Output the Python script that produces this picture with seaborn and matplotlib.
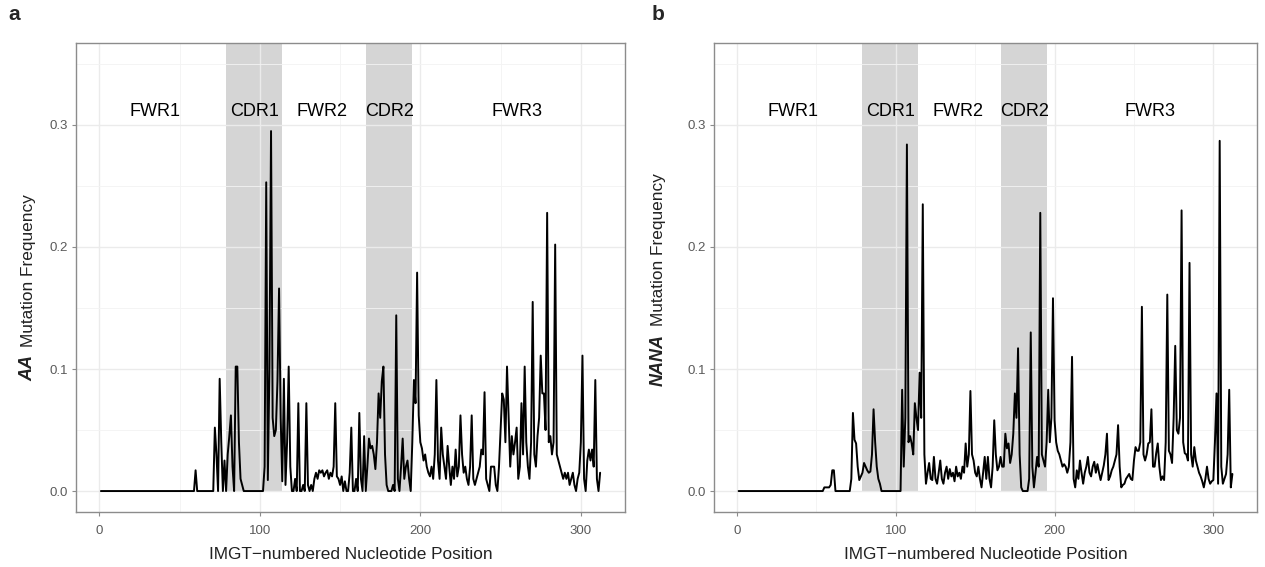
import numpy as np
import pandas as pd
import seaborn as sns
import matplotlib.pyplot as plt

positions = list(range(1, 313))

aa_freq = ([0.0] * 59 + [
    0.017, 0, 0, 0, 0, 0, 0, 0, 0, 0,
    0, 0, 0.052, 0.03, 0.0, 0.092, 0.04, 0.0, 0.025, 0.0,
    0.03, 0.045, 0.062, 0.02, 0.0, 0.102, 0.102, 0.04, 0.01, 0.005,
    0, 0, 0, 0, 0, 0, 0, 0, 0, 0,
    0, 0, 0, 0.02, 0.253, 0.009, 0.1, 0.295, 0.06, 0.045,
    0.05, 0.09, 0.166, 0.06, 0.008, 0.092, 0.005, 0.04, 0.102, 0.02,
    0.0, 0.0, 0.01, 0.0, 0.072, 0.0, 0.0, 0.005, 0.0, 0.072,
    0.005, 0.0, 0.005, 0.0, 0.01, 0.015, 0.01, 0.017, 0.015, 0.017,
    0.012, 0.015, 0.017, 0.01, 0.015, 0.012, 0.02, 0.072, 0.012, 0.01,
    0.005, 0.012, 0.0, 0.008, 0.0, 0.0, 0.015, 0.052, 0.0, 0.0,
    0.01, 0.0, 0.064, 0.01, 0.0, 0.045, 0.0, 0.02, 0.043, 0.035,
    0.037, 0.03, 0.018, 0.04, 0.08, 0.06, 0.09, 0.102, 0.03, 0.005,
    0, 0, 0, 0.005, 0, 0.144, 0.01, 0, 0.02, 0.043,
    0.01, 0.02, 0.025, 0.01, 0.0, 0.04, 0.091, 0.072, 0.179, 0.062,
    0.04, 0.035, 0.025, 0.03, 0.02, 0.015, 0.012, 0.02, 0.01, 0.03,
    0.091, 0.025, 0.01, 0.052, 0.03, 0.02, 0.01, 0.037, 0.02, 0.005,
    0.02, 0.01, 0.034, 0.012, 0.02, 0.062, 0.03, 0.015, 0.02, 0.01,
    0.005, 0.02, 0.062, 0.01, 0.005, 0.01, 0.015, 0.02, 0.034, 0.03,
    0.081, 0.01, 0.005, 0.0, 0.02, 0.02, 0.02, 0.005, 0.0, 0.02,
    0.05, 0.08, 0.075, 0.04, 0.102, 0.06, 0.02, 0.045, 0.03, 0.04,
    0.052, 0.01, 0.02, 0.072, 0.03, 0.102, 0.04, 0.02, 0.01, 0.04,
    0.155, 0.03, 0.02, 0.045, 0.06, 0.111, 0.08, 0.08, 0.05, 0.228,
    0.04, 0.045, 0.03, 0.04, 0.202, 0.03, 0.025, 0.02, 0.015, 0.01,
    0.015, 0.01, 0.015, 0.005, 0.01, 0.015, 0.005, 0.0, 0.01, 0.015,
    0.04, 0.111, 0.01, 0.0, 0.025, 0.034, 0.025, 0.034, 0.02, 0.091,
    0.01, 0.0, 0.015])

nana_freq = ([0.0] * 54 + [
    0.003, 0.003, 0.003, 0.003, 0.005,
    0.017, 0.017, 0, 0, 0, 0, 0, 0, 0, 0,
    0, 0, 0.01, 0.064, 0.042, 0.039, 0.02, 0.009, 0.012, 0.015,
    0.023, 0.02, 0.017, 0.015, 0.016, 0.03, 0.067, 0.04, 0.02, 0.01,
    0.006, 0, 0, 0, 0, 0, 0, 0, 0, 0,
    0, 0, 0, 0, 0.083, 0.02, 0.06, 0.284, 0.04, 0.045,
    0.039, 0.03, 0.072, 0.06, 0.05, 0.097, 0.06, 0.235, 0.03, 0.006,
    0.015, 0.023, 0.01, 0.009, 0.028, 0.01, 0.006, 0.015, 0.025, 0.01,
    0.006, 0.015, 0.02, 0.01, 0.018, 0.012, 0.015, 0.008, 0.02, 0.012,
    0.015, 0.01, 0.02, 0.015, 0.039, 0.02, 0.03, 0.082, 0.03, 0.025,
    0.015, 0.012, 0.02, 0.01, 0.003, 0.015, 0.028, 0.01, 0.028, 0.01,
    0.003, 0.02, 0.058, 0.03, 0.017, 0.02, 0.028, 0.02, 0.02, 0.047,
    0.035, 0.039, 0.023, 0.03, 0.047, 0.08, 0.06, 0.117, 0.03, 0.003,
    0, 0, 0, 0, 0.01, 0.13, 0.02, 0.003, 0.015, 0.028,
    0.02, 0.228, 0.03, 0.025, 0.02, 0.04, 0.083, 0.04, 0.06, 0.158,
    0.058, 0.04, 0.033, 0.03, 0.025, 0.02, 0.022, 0.02, 0.015, 0.02,
    0.04, 0.11, 0.01, 0.003, 0.017, 0.01, 0.025, 0.015, 0.006, 0.015,
    0.02, 0.028, 0.015, 0.012, 0.02, 0.024, 0.015, 0.022, 0.015, 0.009,
    0.015, 0.021, 0.03, 0.047, 0.009, 0.012, 0.017, 0.02, 0.025, 0.03,
    0.054, 0.02, 0.003, 0.005, 0.006, 0.01, 0.012, 0.014, 0.01, 0.009,
    0.025, 0.036, 0.033, 0.033, 0.04, 0.151, 0.03, 0.025, 0.03, 0.039,
    0.04, 0.067, 0.02, 0.02, 0.031, 0.039, 0.02, 0.009, 0.012, 0.009,
    0.04, 0.161, 0.033, 0.03, 0.023, 0.06, 0.119, 0.05, 0.047, 0.06,
    0.23, 0.04, 0.031, 0.03, 0.025, 0.187, 0.03, 0.02, 0.036, 0.025,
    0.02, 0.015, 0.012, 0.008, 0.003, 0.01, 0.02, 0.01, 0.006, 0.008,
    0.009, 0.04, 0.08, 0.006, 0.287, 0.02, 0.006, 0.01, 0.014, 0.03,
    0.083, 0.003, 0.014])

region_names = ["FWR1", "CDR1", "FWR2", "CDR2", "FWR3"]
region_label_x = [35, 97, 139, 181, 260]
region_label_y = 0.311
cdr_spans = [(79, 114), (166, 195)]

sns.set_theme(style="whitegrid")
plt.rcParams['font.family'] = ['Liberation Sans', 'DejaVu Sans']

fig = plt.figure(figsize=(12.65, 5.67), dpi=100)
W, H = 1265, 567
ax_a = fig.add_axes([76 / W, 54.6 / H, 549 / W, 469.8 / H])
ax_b = fig.add_axes([714 / W, 54.6 / H, 543 / W, 469.8 / H])

ylo, yhi = -0.0175, 0.3675


def draw_panel(ax, freq, prefix, split, lab_x):
    df = pd.DataFrame({"pos": positions, "freq": freq})
    for x0, x1 in cdr_spans:
        ax.axvspan(x0, x1, ymin=(0 - ylo) / (yhi - ylo), ymax=1,
                   color="#b4b4b4", alpha=0.55, lw=0, zorder=0.5)
    sns.lineplot(data=df, x="pos", y="freq", color="black", lw=1.4, ax=ax, zorder=3)
    for name, lx in zip(region_names, region_label_x):
        ax.text(lx, region_label_y, name, ha="center", va="center",
                fontsize=13, color="black", zorder=4)
    ax.set_xlim(-14.5, 327.5)
    ax.set_ylim(ylo, yhi)
    ax.set_xticks([0, 100, 200, 300])
    ax.set_xticks([50, 150, 250], minor=True)
    ax.set_yticks([0.0, 0.1, 0.2, 0.3])
    ax.set_yticklabels(["0.0", "0.1", "0.2", "0.3"])
    ax.set_yticks([0.05, 0.15, 0.25, 0.35], minor=True)
    ax.set_facecolor("white")
    ax.grid(which="major", color="#ebebeb", lw=1.0)
    ax.grid(which="minor", color="#f3f3f3", lw=0.6)
    ax.set_axisbelow(True)
    for s in ax.spines.values():
        s.set_color("#8c8c8c")
        s.set_linewidth(1.0)
    ax.tick_params(which="major", length=3, width=0.8, color="#8c8c8c",
                   labelsize=9.5, labelcolor="#5a5a5a", pad=3,
                   bottom=True, left=True)
    ax.tick_params(axis="x", which="major", pad=6)
    ax.tick_params(which="minor", length=0)
    ax.set_xlabel("IMGT\u2212numbered Nucleotide Position", fontsize=12.4,
                  color="#222222", labelpad=7)
    ax.set_ylabel("")
    ax.text(lab_x, split - 0.008, prefix, rotation=90, transform=ax.transAxes,
            ha="center", va="top", fontsize=13, fontweight="bold",
            fontstyle="italic", color="#222222")
    ax.text(lab_x, split + 0.008, "Mutation Frequency", rotation=90,
            transform=ax.transAxes, ha="center", va="bottom", fontsize=12.4,
            color="#222222")


draw_panel(ax_a, aa_freq, "AA", 0.344, -0.087)
draw_panel(ax_b, nana_freq, "NANA", 0.388, -0.103)

fig.text(8 / W, 1 - 15 / H, "a", fontsize=15, fontweight="bold", va="center", ha="left")
fig.text(652 / W, 1 - 15 / H, "b", fontsize=15, fontweight="bold", va="center", ha="left")

fig.savefig("out.png", dpi=100, facecolor="white")
